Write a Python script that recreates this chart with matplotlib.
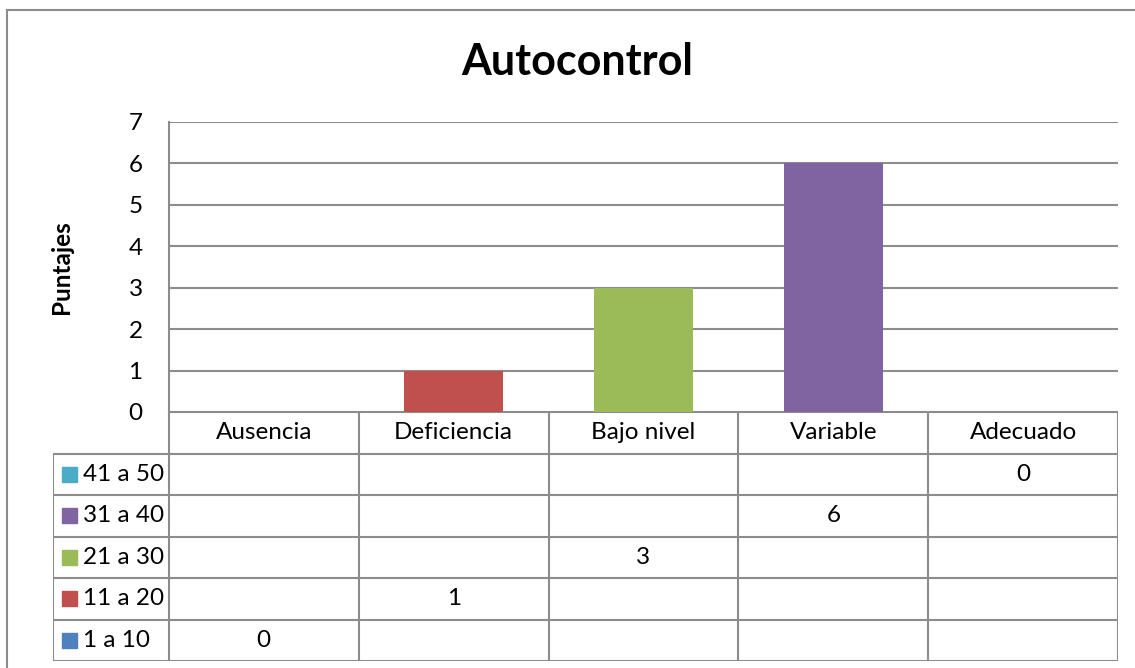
import numpy as np
import matplotlib.pyplot as plt
from matplotlib.lines import Line2D
from matplotlib.patches import Rectangle

plt.rcParams['font.family'] = ['Lato', 'DejaVu Sans']

# data
categories = ['Ausencia', 'Deficiencia', 'Bajo nivel', 'Variable', 'Adecuado']
series = ['1 a 10', '11 a 20', '21 a 30', '31 a 40', '41 a 50']
values = [0, 1, 3, 6, 0]
colors = ['#4F81BD', '#C0504D', '#9BBB59', '#8064A2', '#4BACC6']

W, H = 1135, 668
fig = plt.figure(figsize=(W / 100, H / 100), dpi=100)
grid_c = '#8c8c8c'
fs = 17.5

def fx(px):
    return px / W

def fy(py):
    return 1 - py / H

# outer chart frame (runs past right and bottom edges)
fig.add_artist(Line2D([fx(7), fx(7)], [fy(10), fy(700)], color=grid_c, lw=1.5))
fig.add_artist(Line2D([fx(7), fx(1140)], [fy(10), fy(10)], color=grid_c, lw=1.5))

# plot area
left, right, top, bottom = 169, 1118, 122, 412
ax = fig.add_axes([fx(left), fy(bottom), fx(right - left), (bottom - top) / H])
x = np.arange(len(categories))
for i, (v, c) in enumerate(zip(values, colors)):
    ax.bar(x[i], v, width=0.52, color=c, zorder=3)
ax.set_xlim(-0.5, len(categories) - 0.5)
ax.set_ylim(0, 7)
ax.set_yticks(range(8))
ax.yaxis.grid(True, color=grid_c, lw=1.5, zorder=0)
ax.set_xticks([])
ax.tick_params(axis='y', length=0, pad=19, labelsize=fs)
for s in ['top', 'right', 'bottom']:
    ax.spines[s].set_visible(False)
ax.spines['left'].set_color(grid_c)
ax.spines['left'].set_linewidth(1.5)
ax.set_ylabel('Puntajes', fontsize=17.5, fontweight='bold', labelpad=40)

fig.text(fx(577), fy(62), 'Autocontrol', fontsize=31, fontweight='bold',
         ha='center', va='center')

# data table under the plot
legw = (169 - 53) / 190
tb_top, tb_bot = 412, 661
nrows = len(series) + 1
tax = fig.add_axes([fx(53), fy(tb_bot), fx(right - 53), (tb_bot - tb_top) / H])
tax.set_xlim(-0.5 - legw, len(categories) - 0.5)
tax.set_ylim(nrows, 0)
tax.axis('off')
lk = dict(color=grid_c, lw=1.5, solid_capstyle='projecting')
# header row (category names)
tax.plot([-0.5, len(categories) - 0.5], [0, 0], **lk)
for j in range(len(categories) + 1):
    tax.plot([j - 0.5, j - 0.5], [0, nrows], **lk)
tax.plot([-0.5 - legw, -0.5 - legw], [1, nrows], **lk)
for r in range(1, nrows + 1):
    tax.plot([-0.5 - legw, len(categories) - 0.5], [r, r], **lk)
for j, cat in enumerate(categories):
    tax.text(j, 0.5, cat, ha='center', va='center', fontsize=fs)
# series rows, highest range on top
for r, si in enumerate(reversed(range(len(series)))):
    yc = r + 1.5
    tax.add_patch(Rectangle((-0.5 - legw + 0.048, yc - 0.18), 0.078, 0.36,
                            color=colors[si], transform=tax.transData))
    tax.text(-0.5 - legw + 0.16, yc, series[si], ha='left', va='center', fontsize=fs)
    tax.text(si, yc, str(values[si]), ha='center', va='center', fontsize=fs)

fig.savefig('out.png', dpi=100)
